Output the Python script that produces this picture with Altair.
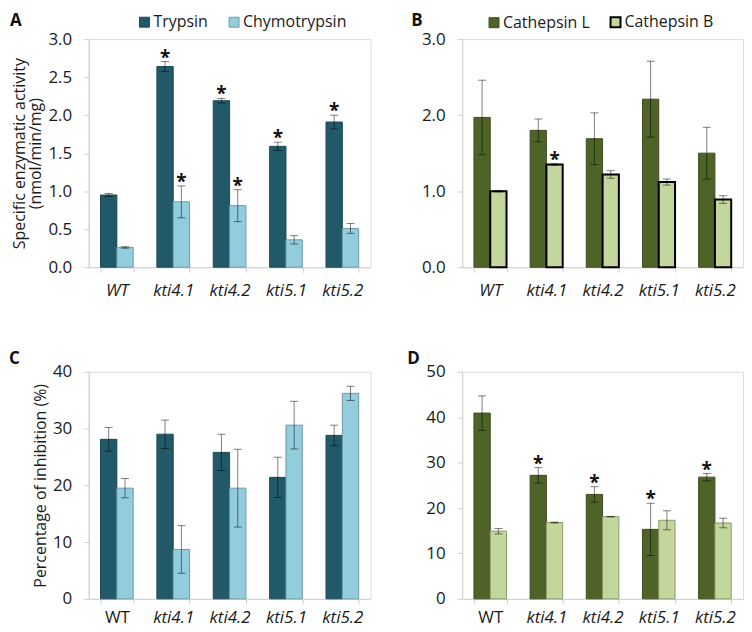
import altair as alt
import pandas as pd

lines = ["WT", "kti4.1", "kti4.2", "kti5.1", "kti5.2"]

# Panel A: specific activity (nmol/min/mg)
trypsin = [0.95, 2.64, 2.19, 1.59, 1.91]
trypsin_err = [0.02, 0.065, 0.03, 0.055, 0.09]
trypsin_sig = [0, 1, 1, 1, 1]
chymo = [0.26, 0.86, 0.81, 0.36, 0.51]
chymo_err = [0.01, 0.21, 0.21, 0.055, 0.065]
chymo_sig = [0, 1, 1, 0, 0]

# Panel B: specific activity (nmol/min/mg)
cathL = [1.97, 1.80, 1.69, 2.21, 1.50]
cathL_err = [0.49, 0.15, 0.34, 0.50, 0.34]
cathL_sig = [0, 0, 0, 0, 0]
cathB = [1.00, 1.35, 1.22, 1.12, 0.89]
cathB_err = [0.01, 0.01, 0.05, 0.04, 0.05]
cathB_sig = [0, 1, 0, 0, 0]

# Panel C: percentage of inhibition
inh_tryp = [28.1, 29.0, 25.8, 21.4, 28.8]
inh_tryp_err = [2.1, 2.5, 3.2, 3.55, 1.8]
inh_tryp_sig = [0, 0, 0, 0, 0]
inh_chymo = [19.5, 8.7, 19.5, 30.6, 36.2]
inh_chymo_err = [1.7, 4.2, 6.85, 4.2, 1.25]
inh_chymo_sig = [0, 0, 0, 0, 0]

# Panel D: percentage of inhibition
inh_L = [40.9, 27.2, 23.0, 15.3, 26.8]
inh_L_err = [3.8, 1.7, 1.7, 5.75, 0.8]
inh_L_sig = [0, 1, 1, 1, 1]
inh_B = [14.9, 16.8, 18.1, 17.3, 16.7]
inh_B_err = [0.6, 0.1, 0.05, 2.1, 1.05]
inh_B_sig = [0, 0, 0, 0, 0]

ticks_A = [0.0, 0.5, 1.0, 1.5, 2.0, 2.5, 3.0]
ticks_B = [0.0, 1.0, 2.0, 3.0]
ticks_C = [0, 10, 20, 30, 40]
ticks_D = [0, 10, 20, 30, 40, 50]

FONT = "Open Sans"
AXIS_GREY = "#d0d0d0"


def make_panel(s1, v1, e1, g1, s2, v2, e2, g2, fills, strokes, widths,
               ymax, yvals, yfmt, ytitle, letter, lx, ly, legend,
               wt_italic, w, h, xpad):
    rows = []
    for i, c in enumerate(lines):
        rows.append(dict(line=c, series=s1, value=v1[i], lo=v1[i] - e1[i],
                         hi=v1[i] + e1[i], sig=g1[i]))
        rows.append(dict(line=c, series=s2, value=v2[i], lo=v2[i] - e2[i],
                         hi=v2[i] + e2[i], sig=g2[i]))
    df = pd.DataFrame(rows)

    if wt_italic:
        fstyle = "italic"
    else:
        fstyle = {"condition": {"test": "datum.value == 'WT'", "value": "normal"},
                  "value": "italic"}

    xaxis = alt.Axis(title=None, labelAngle=0, labelFont=FONT, labelFontSize=17,
                     labelFontStyle=fstyle, labelColor="#1a1a1a",
                     labelPadding=xpad, tickBand="extent", tickSize=5,
                     tickColor=AXIS_GREY, domainColor=AXIS_GREY)
    yaxis_kw = dict(values=yvals, format=yfmt, labelFont=FONT, labelFontSize=17,
                    labelColor="#1a1a1a", labelPadding=12, tickSize=5,
                    tickColor=AXIS_GREY, domainColor=AXIS_GREY, grid=False,
                    titleFont=FONT, titleFontSize=16, titleFontWeight="normal",
                    titleColor="#1a1a1a", titlePadding=4, titleLineHeight=17)
    if ytitle is not None:
        yaxis = alt.Axis(title=ytitle, **yaxis_kw)
    else:
        yaxis = alt.Axis(title="", **yaxis_kw)
    yscale = alt.Scale(domain=[0, ymax], nice=False)

    base = alt.Chart(df).encode(
        x=alt.X("line:N", sort=lines, axis=xaxis,
                scale=alt.Scale(paddingInner=0.42, paddingOuter=0.21)),
        xOffset=alt.XOffset("series:N", sort=[s1, s2],
                            scale=alt.Scale(domain=[s1, s2], paddingInner=0,
                                            paddingOuter=0)),
    )

    bars = base.mark_bar().encode(
        y=alt.Y("value:Q", scale=yscale, axis=yaxis),
        fill=alt.Fill("series:N", scale=alt.Scale(domain=[s1, s2], range=fills),
                      legend=legend),
        stroke=alt.Stroke("series:N", scale=alt.Scale(domain=[s1, s2], range=strokes),
                          legend=legend),
        strokeWidth=alt.StrokeWidth("series:N",
                                    scale=alt.Scale(domain=[s1, s2], range=widths),
                                    legend=None),
    )
    rules = base.mark_rule(color="black", opacity=0.5, strokeWidth=1).encode(
        y=alt.Y("lo:Q", scale=yscale, axis=yaxis), y2="hi:Q")
    cap_hi = base.mark_tick(color="black", opacity=0.5, thickness=1, size=8).encode(
        y=alt.Y("hi:Q", scale=yscale, axis=yaxis))
    cap_lo = base.mark_tick(color="black", opacity=0.5, thickness=1, size=8).encode(
        y=alt.Y("lo:Q", scale=yscale, axis=yaxis))
    stars = base.transform_filter("datum.sig == 1").mark_text(
        text="*", font=FONT, fontSize=19, fontWeight="bold", color="#111111",
        baseline="alphabetic", dy=2).encode(
        y=alt.Y("hi:Q", scale=yscale, axis=yaxis))

    lab = alt.Chart(pd.DataFrame({"t": [letter]})).mark_text(
        align="left", baseline="middle", font=FONT, fontSize=17,
        fontWeight="bold", color="#111111").encode(
        x=alt.value(lx), y=alt.value(ly), text="t:N")

    return alt.layer(bars, rules, cap_hi, cap_lo, stars, lab).properties(
        width=w, height=h)


def leg(x, y, colpad):
    return alt.Legend(orient="none", legendX=x, legendY=y, direction="horizontal",
                      title=None, labelFont=FONT, labelFontSize=16,
                      labelColor="#1a1a1a", symbolType="square", symbolSize=100,
                      symbolStrokeWidth=1.5, labelOffset=1, columnPadding=colpad,
                      padding=0)


A = make_panel("Trypsin", trypsin, trypsin_err, trypsin_sig,
               "Chymotrypsin", chymo, chymo_err, chymo_sig,
               ["#215968", "#93cddd"], ["#1b4a56", "#6e9aa6"], [1, 1],
               3.0, ticks_A, ".1f",
               ["Specific enzymatic activity", "(nmol/min/mg)"],
               "A", -79, -18, leg(48, -25, 18), True, 283, 229, 10)

B = make_panel("Cathepsin L", cathL, cathL_err, cathL_sig,
               "Cathepsin B", cathB, cathB_err, cathB_sig,
               ["#4f6228", "#c3d69b"], ["#3d4d1f", "#000000"], [1, 2],
               3.0, ticks_B, ".1f", None,
               "B", -51, -18, leg(24, -25, 16), True, 282, 229, 10)

C = make_panel("Trypsin", inh_tryp, inh_tryp_err, inh_tryp_sig,
               "Chymotrypsin", inh_chymo, inh_chymo_err, inh_chymo_sig,
               ["#215968", "#93cddd"], ["#1b4a56", "#6e9aa6"], [1, 1],
               40, ticks_C, "d", "Percentage of inhibition (%)",
               "C", -80, -13, None, False, 283, 228, 6)

D = make_panel("Cathepsin L", inh_L, inh_L_err, inh_L_sig,
               "Cathepsin B", inh_B, inh_B_err, inh_B_sig,
               ["#4f6228", "#c3d69b"], ["#3d4d1f", "#8a9a6a"], [1, 1],
               50, ticks_D, "d", None,
               "D", -55, -13, None, False, 282, 228, 6)

chart = alt.concat(A, B, C, D, columns=2,
                   spacing=alt.RowColnumber(row=105, column=92),
                   bounds="flush").resolve_scale(
    fill="independent", stroke="independent", strokeWidth="independent",
    x="independent", y="independent", xOffset="independent"
).properties(padding={"top": 2, "left": 0, "right": 0, "bottom": 0}
).configure_view(stroke=None).configure(font=FONT)

chart.save("out.html", embed_options={"renderer": "svg", "actions": False})
